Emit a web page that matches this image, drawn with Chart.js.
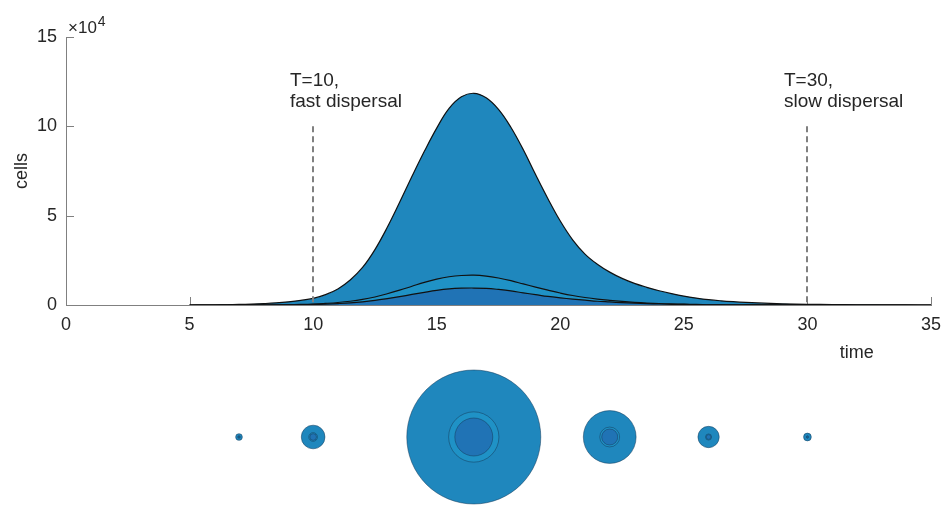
<!DOCTYPE html>
<html>
<head>
<meta charset="utf-8">
<script src="https://cdn.jsdelivr.net/npm/chart.js@4.4.1/dist/chart.umd.min.js"></script>
<style>
  body { margin: 0; background: #fff; overflow: hidden; }
  #wrap { position: relative; width: 943px; height: 509px; }
  #mainChart { position: absolute; left: 0; top: 0; }
  #bubbleChart { position: absolute; left: 0; top: 365px; }
</style>
</head>
<body>
<div id="wrap">
  <canvas id="mainChart" width="943" height="365"></canvas>
  <canvas id="bubbleChart" width="943" height="144"></canvas>
</div>
<script>
// time axis, cells in units of 10^4
const times = [5, 5.5, 6, 6.5, 7, 7.5, 8, 8.5, 9, 9.5, 10, 10.5, 11, 11.5, 12, 12.5, 13, 13.5,
  14, 14.5, 15, 15.5, 16, 16.5, 17, 17.5, 18, 18.5, 19, 19.5, 20, 20.5, 21, 21.5, 22, 22.5,
  23, 23.5, 24, 24.5, 25, 25.5, 26, 26.5, 27, 27.5, 28, 29, 30, 31, 32, 33, 34, 35];

// outer boundary (all cells)
const totalCells = [0.001, 0.003, 0.006, 0.015, 0.03, 0.05, 0.08, 0.12, 0.18, 0.26, 0.37, 0.58, 0.9, 1.4,
  2.1, 3.1, 4.35, 5.75, 7.2, 8.6, 9.9, 11.0, 11.65, 11.85, 11.6, 10.95, 9.95, 8.7, 7.3, 5.95,
  4.7, 3.65, 2.85, 2.28, 1.84, 1.49, 1.21, 0.99, 0.8, 0.64, 0.5, 0.39, 0.3, 0.235, 0.185, 0.145,
  0.115, 0.07, 0.04, 0.022, 0.012, 0.006, 0.002, 0];

// middle boundary
const innerCells = [0, 0, 0.001, 0.002, 0.004, 0.006, 0.01, 0.014, 0.02, 0.032, 0.05, 0.09, 0.14, 0.21,
  0.31, 0.45, 0.63, 0.83, 1.05, 1.27, 1.45, 1.58, 1.65, 1.67, 1.62, 1.51, 1.36, 1.18, 1.0, 0.83,
  0.67, 0.53, 0.42, 0.33, 0.26, 0.2, 0.15, 0.11, 0.08, 0.06, 0.045, 0.034, 0.025, 0.018, 0.012, 0.009,
  0.006, 0.004, 0.003, 0.001, 0, 0, 0, 0];

// core
const coreCells = [0, 0, 0.0005, 0.001, 0.002, 0.003, 0.005, 0.007, 0.011, 0.018, 0.03, 0.05, 0.08, 0.12,
  0.18, 0.26, 0.36, 0.47, 0.59, 0.71, 0.82, 0.9, 0.94, 0.95, 0.93, 0.87, 0.79, 0.68, 0.58, 0.48,
  0.4, 0.33, 0.27, 0.21, 0.17, 0.13, 0.1, 0.075, 0.055, 0.04, 0.03, 0.022, 0.015, 0.011, 0.008, 0.006,
  0.004, 0.003, 0.002, 0.001, 0, 0, 0, 0];

const markTimes = [10, 30];
const markTop = 10;
const markLabels = [["T=10,", "fast dispersal"], ["T=30,", "slow dispersal"]];
const snapTimes = [7, 10, 16.5, 22, 26, 30];

const colTotal = "#1f87bd";
const colInner = "#1f92c6";
const colCore = "#2073b5";
const textCol = "#262626";
const axisCol = "#808080";
const fontFam = "'Liberation Sans', Arial, Helvetica, sans-serif";

Chart.defaults.font.family = fontFam;
Chart.defaults.color = textCol;

function toPts(arr) {
  return times.map((t, i) => ({ x: t, y: arr[i] }));
}

function areaSet(label, arr, color, order) {
  return {
    label: label,
    data: toPts(arr),
    order: order,
    backgroundColor: color,
    borderColor: "#111",
    borderWidth: 1.2,
    fill: "origin",
    pointRadius: 0,
    tension: 0.4
  };
}

const decor = {
  id: "decor",
  beforeDatasetsDraw(chart) {
    const { ctx, chartArea: a, scales: { x, y } } = chart;
    ctx.save();
    ctx.strokeStyle = axisCol;
    ctx.lineWidth = 1;
    ctx.beginPath();
    x.ticks.forEach(t => {
      const px = Math.round(x.getPixelForValue(t.value)) + 0.5;
      ctx.moveTo(px, a.bottom);
      ctx.lineTo(px, a.bottom - 8);
    });
    y.ticks.forEach(t => {
      const py = Math.round(y.getPixelForValue(t.value)) + 0.5;
      ctx.moveTo(a.left, py);
      ctx.lineTo(a.left + 8, py);
    });
    ctx.stroke();
    ctx.restore();
  },
  afterDatasetsDraw(chart) {
    const { ctx, chartArea: a, scales: { x, y } } = chart;
    ctx.save();
    // dashed markers
    ctx.strokeStyle = axisCol;
    ctx.lineWidth = 2;
    ctx.setLineDash([6, 4]);
    const top = y.getPixelForValue(markTop);
    markTimes.forEach((t, i) => {
      const px = Math.round(x.getPixelForValue(t));
      ctx.beginPath();
      ctx.moveTo(px, top);
      ctx.lineTo(px, a.bottom);
      ctx.stroke();
      ctx.fillStyle = textCol;
      ctx.font = "19px " + fontFam;
      ctx.textAlign = "left";
      ctx.textBaseline = "alphabetic";
      ctx.fillText(markLabels[i][0], px - 23, top - 40);
      ctx.fillText(markLabels[i][1], px - 23, top - 19);
    });
    ctx.setLineDash([]);
    // exponent
    ctx.fillStyle = textCol;
    ctx.font = "17px " + fontFam;
    ctx.textAlign = "left";
    ctx.fillText("\u00d710", a.left + 2, a.top - 4);
    const w = ctx.measureText("\u00d710").width;
    ctx.font = "14px " + fontFam;
    ctx.fillText("4", a.left + 3 + w, a.top - 11);
    // x label
    ctx.font = "18px " + fontFam;
    ctx.textAlign = "center";
    ctx.textBaseline = "middle";
    ctx.fillText("time", x.getPixelForValue(32), a.bottom + 48);
    ctx.restore();
  }
};

new Chart(document.getElementById("mainChart").getContext("2d"), {
  type: "line",
  data: {
    datasets: [
      areaSet("total", totalCells, colTotal, 3),
      areaSet("inner", innerCells, colInner, 2),
      areaSet("core", coreCells, colCore, 1)
    ]
  },
  options: {
    responsive: false,
    animation: false,
    layout: { autoPadding: false, padding: { top: 37, right: 12, left: 0, bottom: 0 } },
    plugins: { legend: { display: false }, tooltip: { enabled: false } },
    scales: {
      x: {
        type: "linear", min: 0, max: 35,
        ticks: { stepSize: 5, padding: 9, font: { size: 18 }, color: textCol, maxRotation: 0 },
        grid: { display: false, drawTicks: false },
        border: { display: true, color: axisCol, width: 1 },
        afterFit: s => { s.height = 60; s.paddingLeft = 0; s.paddingRight = 0; }
      },
      y: {
        min: 0, max: 15,
        ticks: { stepSize: 5, padding: 9, font: { size: 18 }, color: textCol },
        grid: { display: false, drawTicks: false },
        border: { display: true, color: axisCol, width: 1 },
        title: { display: true, text: "cells", font: { size: 18 }, color: textCol, padding: { top: 11, bottom: 0 } },
        afterFit: s => { s.width = 66; s.paddingTop = 0; s.paddingBottom = 0; }
      }
    }
  },
  plugins: [decor]
});

// snapshots: circle area proportional to cells
const rMax = 67;
const vMax = Math.max(...totalCells);
const snapIdx = snapTimes.map(t => times.indexOf(t));

function bubbleSet(arr, color, order) {
  return {
    data: snapIdx.map(i => ({ x: times[i], y: 0, r: rMax * Math.sqrt(arr[i] / vMax) })),
    backgroundColor: color,
    borderColor: "rgba(20,55,85,0.7)",
    borderWidth: 0.7,
    order: order,
    clip: false
  };
}

new Chart(document.getElementById("bubbleChart").getContext("2d"), {
  type: "bubble",
  data: {
    datasets: [
      bubbleSet(totalCells, colTotal, 3),
      bubbleSet(innerCells, colInner, 2),
      bubbleSet(coreCells, colCore, 1)
    ]
  },
  options: {
    responsive: false,
    animation: false,
    layout: { autoPadding: false, padding: { top: 0, right: 12, left: 66, bottom: 0 } },
    plugins: { legend: { display: false }, tooltip: { enabled: false } },
    scales: {
      x: { type: "linear", min: 0, max: 35, display: false },
      y: { min: -1, max: 1, display: false }
    }
  }
});
</script>
</body>
</html>
